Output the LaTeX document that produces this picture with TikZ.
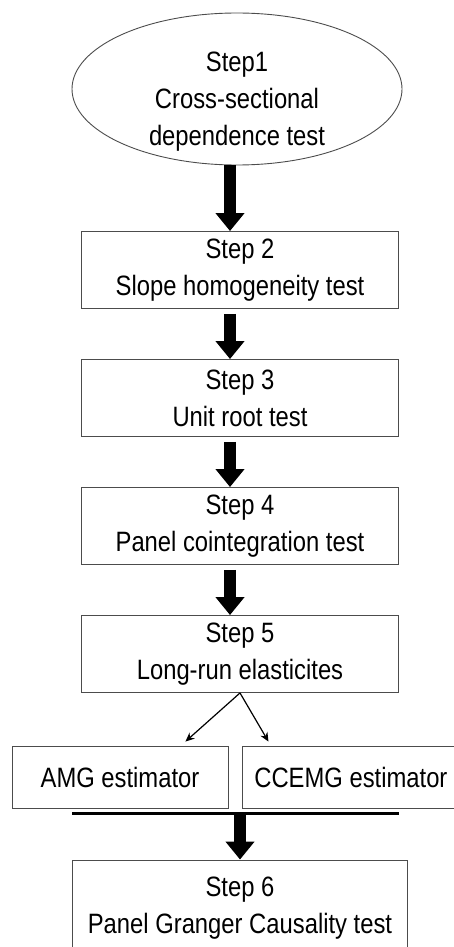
\documentclass[tikz,border=0pt]{standalone}
\usepackage{fontspec}
\setmainfont[FakeStretch=0.85]{Liberation Sans}
\usepackage{tikz}
\usetikzlibrary{arrows.meta, positioning, shapes.geometric}

\begin{document}
\begin{tikzpicture}[
        node distance=128pt,
        every node/.style={font=\fontsize{28}{37}\selectfont, align=center},
        startstep/.style={ellipse, draw=black!70, line width=0.9pt, minimum width=330pt, minimum height=152pt, inner sep=0pt},
        stepbox/.style={rectangle, draw=black!70, line width=0.9pt, text centered, minimum width=317pt, minimum height=77pt},
        estbox/.style={rectangle, draw=black!70, line width=0.9pt, text centered, minimum width=216pt, minimum height=62pt},
        bigarrow/.style={-{Triangle[width=28pt,length=18pt]}, line width=12pt},
        thinarrow/.style={-{Stealth[length=9pt,width=8pt]}, line width=1.2pt},
        bar/.style={line width=3pt}
    ]
        \useasboundingbox (0,0) rectangle (454pt,-947pt);

        % Nodes
        \node[startstep, label={[yshift=-13pt]center:Step1\\Cross-sectional\\dependence test}] (s1) at (237pt,-89pt) {};
        \node[stepbox, below of=s1, xshift=3pt, yshift=-53pt] (s2) {Step 2\\Slope homogeneity test};
        \node[stepbox, below of=s2] (s3) {Step 3\\Unit root test};
        \node[stepbox, below of=s3] (s4) {Step 4\\Panel cointegration test};
        \node[stepbox, below of=s4] (s5) {Step 5\\Long-run elasticites};
        \node[estbox, below of=s5, xshift=-120pt, yshift=4.5pt] (amg) {AMG estimator};
        \node[estbox, right=14pt of amg] (cce) {CCEMG estimator};
        \node[stepbox, below of=s5, yshift=-126pt, minimum width=335pt, minimum height=96pt] (s6) {Step 6\\Panel Granger Causality test};
        \coordinate (join) at ([yshift=-5pt]amg.south -| s6.north);

        % Arrows
        \draw[bigarrow] ([xshift=-7pt]s1.south) -- ([xshift=-10pt]s2.north);
        \draw[bigarrow, shorten <=5pt] ([xshift=-10pt]s2.south) -- ([xshift=-10pt]s3.north);
        \draw[bigarrow, shorten <=5pt] ([xshift=-10pt]s3.south) -- ([xshift=-10pt]s4.north);
        \draw[bigarrow, shorten <=5pt] ([xshift=-10pt]s4.south) -- ([xshift=-10pt]s5.north);
        \draw[thinarrow] (s5.south) -- ([xshift=-43pt, yshift=4.5pt]amg.north east);
        \draw[thinarrow] (s5.south) -- ([xshift=26pt, yshift=4.5pt]cce.north west);
        \draw[bar] (join -| s6.west) -- (join -| s5.east);
        \draw[bigarrow] (join) -- (s6.north);
    \end{tikzpicture}
\end{document}
